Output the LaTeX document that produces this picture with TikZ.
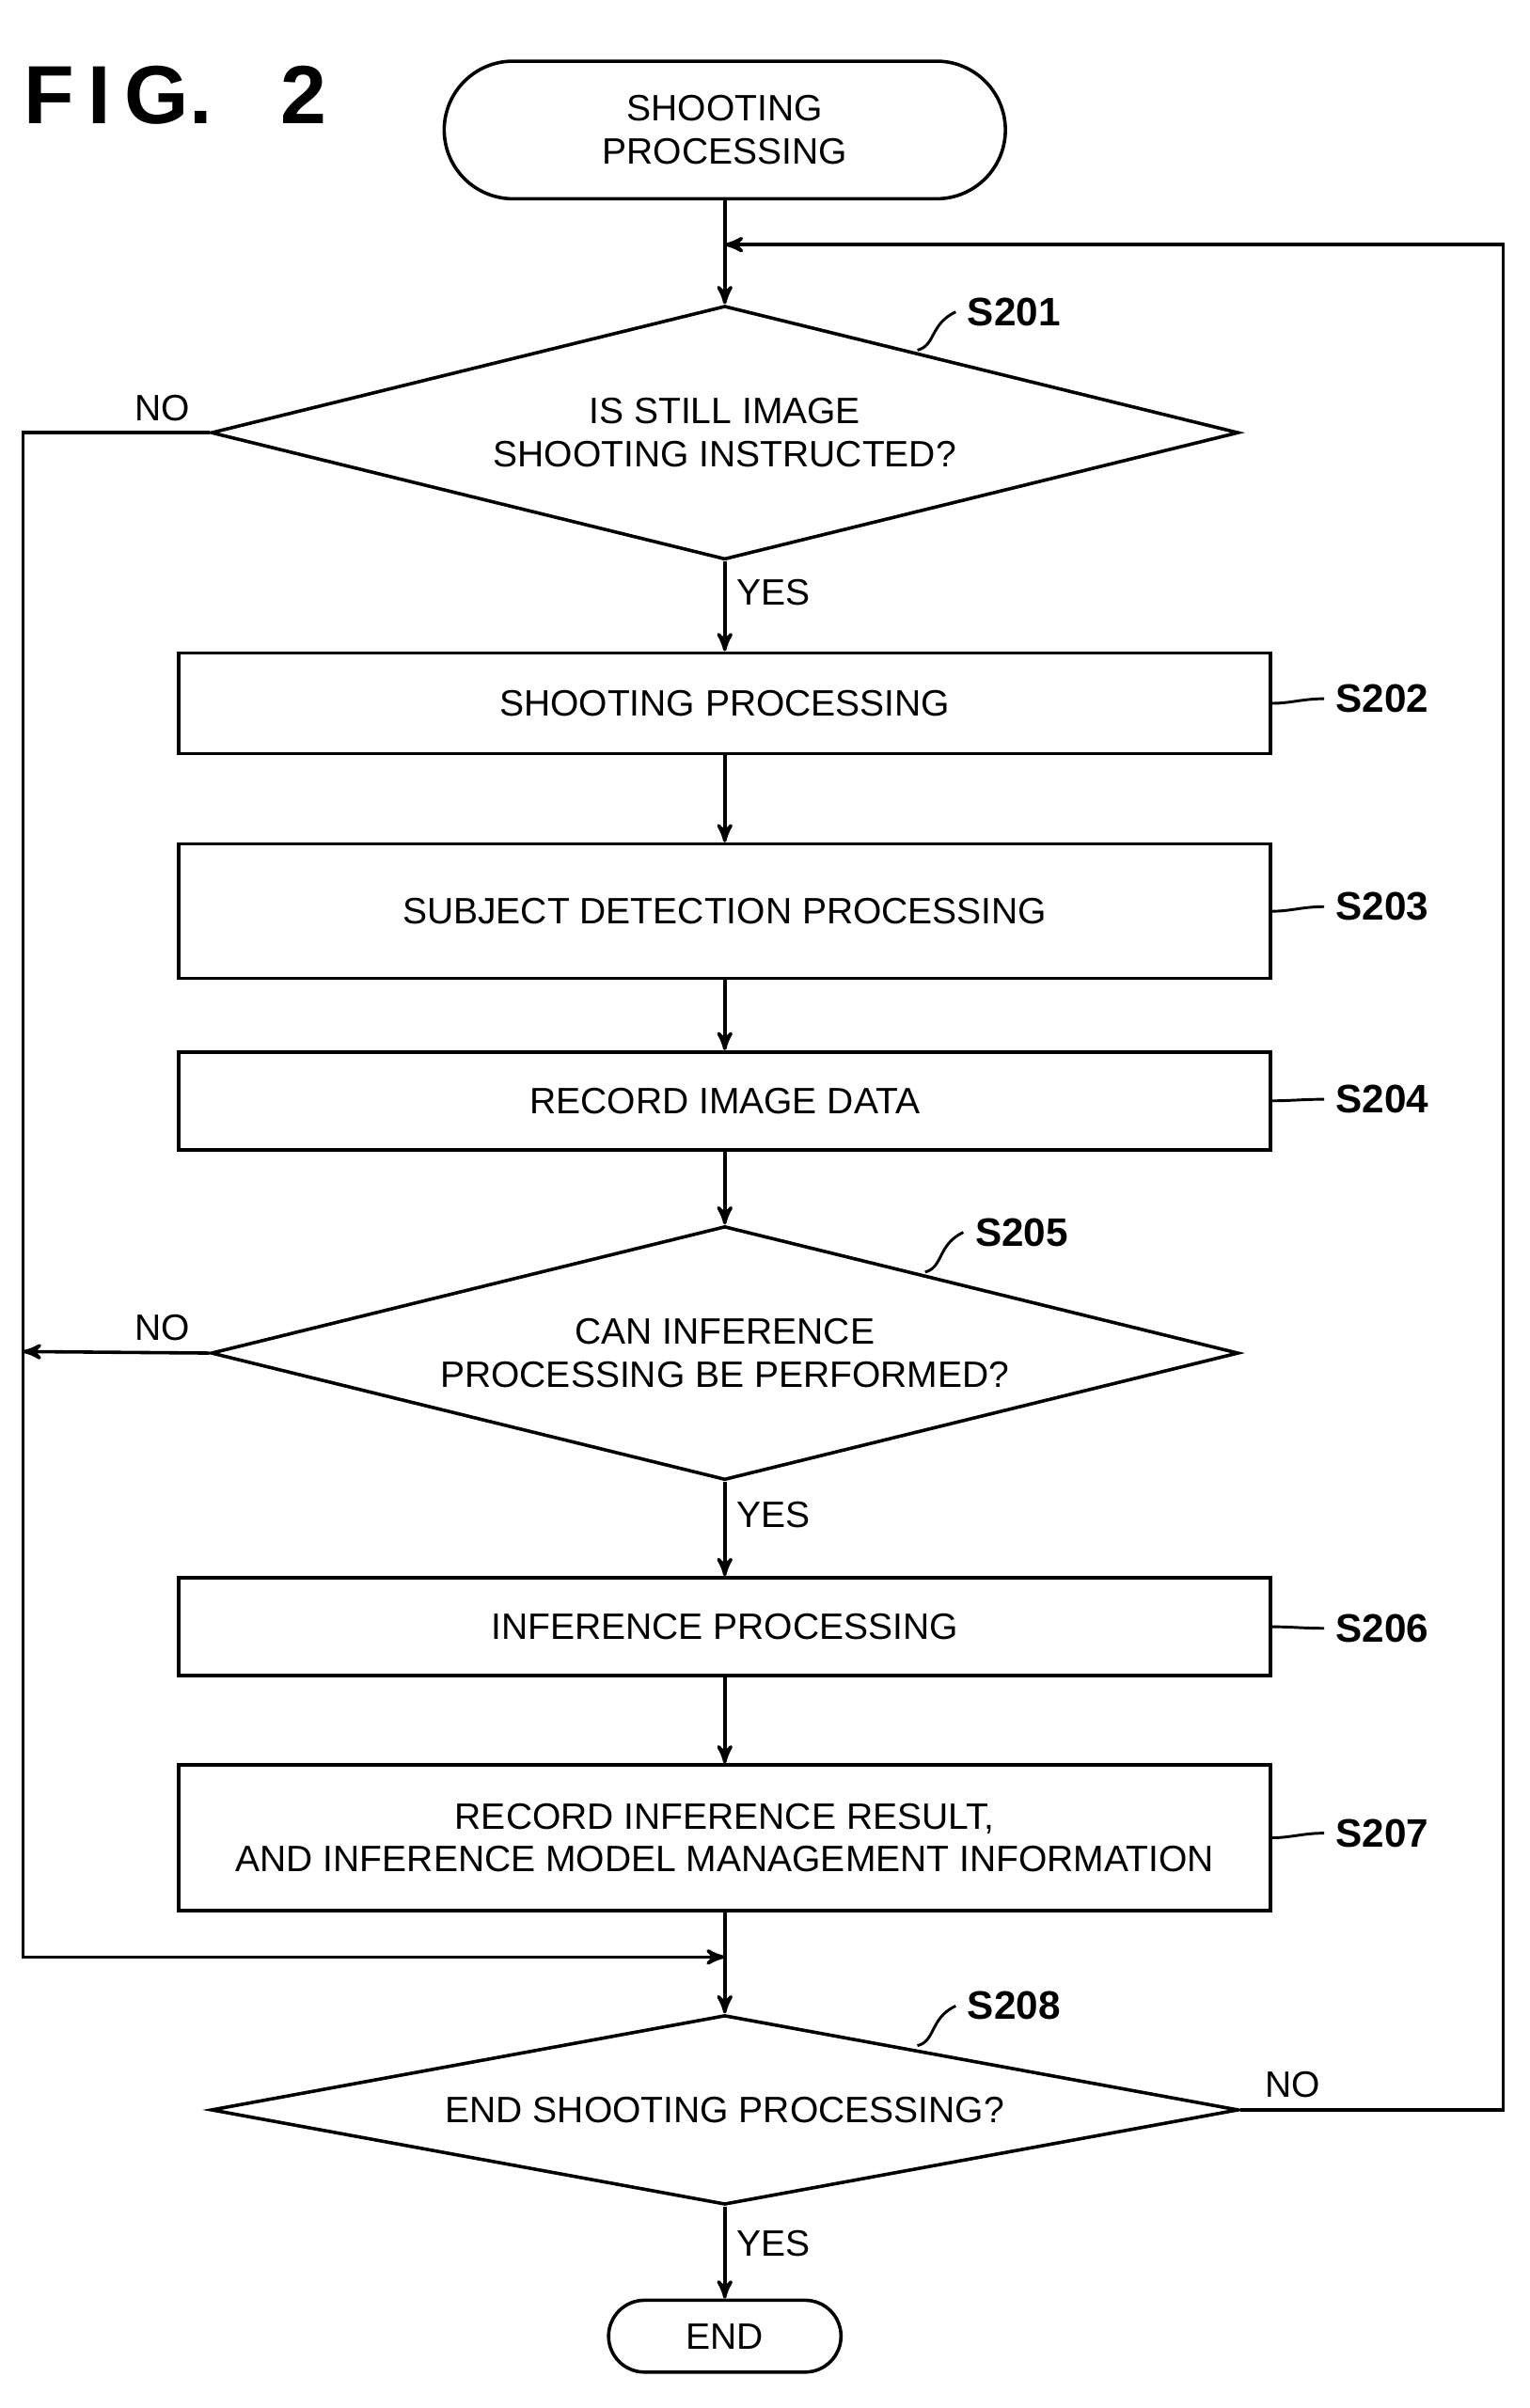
\documentclass[tikz,border=0pt]{standalone}
\usepackage{fontspec}
\setmainfont{Liberation Sans}
\usetikzlibrary{arrows,shapes.geometric,positioning}
\begin{document}
\begin{tikzpicture}[x=0.5pt,y=-0.5pt,>=stealth',line width=1.1pt,
		font=\fontsize{12}{14}\selectfont,
		box/.style={draw,rectangle,minimum width=357pt,inner sep=0pt,align=center},
		term/.style={draw,rectangle,rounded corners=#1,inner sep=0pt,align=center},
		dec/.style={draw,diamond,aspect=4,inner sep=0pt,align=center,minimum width=336pt},
		steplbl/.style={font=\fontsize{13}{15}\selectfont\bfseries,anchor=west},
		tick/.style={line width=0.9pt}]
		\useasboundingbox (0,0) rectangle (1000,1575);
		
		\node[anchor=west,font=\fontsize{27}{30}\selectfont\bfseries] (fig) at (8,62) {F\,I\,G.\;\; 2};
		
		\node[term=22.5pt,minimum width=183.5pt,minimum height=45pt] (start) at (474,85) {SHOOTING\\PROCESSING};
		\node[dec,minimum height=83pt] (d1) at (474,283) {IS STILL IMAGE\\SHOOTING INSTRUCTED?};
		\node[box,minimum height=33pt] (s202) at (474,460) {SHOOTING PROCESSING};
		\node[box,minimum height=44pt] (s203) at (474,596) {SUBJECT DETECTION PROCESSING};
		\node[box,minimum height=32pt] (s204) at (474,720) {RECORD IMAGE DATA};
		\node[dec,minimum height=83pt] (d2) at (474,885) {CAN INFERENCE\\PROCESSING BE PERFORMED?};
		\node[box,minimum height=32pt] (s206) at (474,1064) {INFERENCE PROCESSING};
		\node[box,minimum height=47.5pt] (s207) at (474,1202) {RECORD INFERENCE RESULT,\\AND INFERENCE MODEL MANAGEMENT INFORMATION};
		\node[dec,minimum width=336pt,minimum height=62pt] (d3) at (474,1380) {END SHOOTING PROCESSING?};
		\node[term=11.75pt,minimum width=76pt,minimum height=23.5pt] (end) at (474,1528) {END};
		
		% step labels
		\node[steplbl] (l201) at (625,204) {S201};
		\node[steplbl] (l202) at (866,457) {S202};
		\node[steplbl] (l203) at (866,593) {S203};
		\node[steplbl] (l204) at (866,719) {S204};
		\node[steplbl] (l205) at (630,806) {S205};
		\node[steplbl] (l206) at (866,1065) {S206};
		\node[steplbl] (l207) at (866,1199) {S207};
		\node[steplbl] (l208) at (625,1312) {S208};
		\draw[tick] (600,229) .. controls (612,226) and (608,212) .. (l201.west);
		\draw[tick] (s202.east) .. controls +(12,0) and +(-14,0) .. (l202.west);
		\draw[tick] (s203.east) .. controls +(12,0) and +(-14,0) .. (l203.west);
		\draw[tick] (s204.east) .. controls +(12,0) and +(-14,0) .. (l204.west);
		\draw[tick] (605,832) .. controls (617,829) and (613,814) .. (l205.west);
		\draw[tick] (s206.east) .. controls +(12,0) and +(-14,0) .. (l206.west);
		\draw[tick] (s207.east) .. controls +(12,0) and +(-14,0) .. (l207.west);
		\draw[tick] (600,1338) .. controls (612,1335) and (608,1320) .. (l208.west);
		
		% flow
		\coordinate (j1) at (474,160);
		\coordinate (j2) at (474,1280);
		\coordinate (lft) at (15,884);
		\draw[->] (start) -- (d1);
		\draw[->] (d1) -- node[right,pos=0.35]{YES} (s202);
		\draw[->] (s202) -- (s203);
		\draw[->] (s203) -- (s204);
		\draw[->] (s204) -- (d2);
		\draw[->] (d2) -- node[right,pos=0.35]{YES} (s206);
		\draw[->] (s206) -- (s207);
		\draw[->] (s207) -- (d3);
		\draw[->] (d3) -- node[right,pos=0.4]{YES} (end);
		\draw[->] (d1.west) -- node[above,pos=0.25]{NO} (15,283) |- (j2);
		\draw[->] (d2.west) -- node[above,pos=0.25]{NO} (lft);
		\draw[->] (d3.east) -- node[above,pos=0.2]{NO} (983,1380) |- (j1);
	\end{tikzpicture}
\end{document}
